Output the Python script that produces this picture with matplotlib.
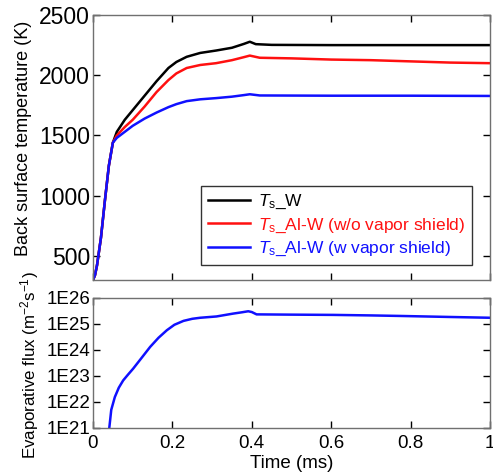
import matplotlib
matplotlib.use("Agg")
import matplotlib.pyplot as plt
import numpy as np

plt.rcParams['font.family'] = ['Liberation Sans', 'DejaVu Sans']
plt.rcParams['mathtext.fontset'] = 'custom'
plt.rcParams['mathtext.rm'] = 'Liberation Sans'
plt.rcParams['mathtext.it'] = 'Liberation Sans:italic'

# Back surface temperature (K) vs time (ms)
t_w = [0.0, 0.005, 0.01, 0.02, 0.03, 0.04, 0.05, 0.06, 0.08, 0.10, 0.13, 0.16, 0.19, 0.21,
       0.236, 0.27, 0.31, 0.35, 0.38, 0.395, 0.41, 0.45, 0.6, 0.8, 1.0]
T_w = [300, 340, 420, 650, 960, 1250, 1440, 1530, 1630, 1710, 1830, 1950, 2060, 2110,
       2153, 2185, 2205, 2228, 2260, 2278, 2258, 2252, 2250, 2250, 2250]

t_alw = [0.0, 0.005, 0.01, 0.02, 0.03, 0.04, 0.05, 0.06, 0.08, 0.10, 0.13, 0.16, 0.19, 0.21,
         0.236, 0.27, 0.31, 0.35, 0.38, 0.395, 0.42, 0.5, 0.6, 0.7, 0.8, 0.9, 1.0]
T_alw = [300, 340, 420, 650, 960, 1250, 1440, 1500, 1570, 1630, 1740, 1860, 1960, 2015,
         2060, 2085, 2100, 2125, 2150, 2163, 2145, 2140, 2130, 2125, 2115, 2105, 2100]

t_alw_vs = [0.0, 0.005, 0.01, 0.02, 0.03, 0.04, 0.05, 0.06, 0.08, 0.10, 0.13, 0.16, 0.19,
            0.21, 0.236, 0.27, 0.31, 0.35, 0.38, 0.395, 0.42, 0.6, 0.8, 1.0]
T_alw_vs = [300, 340, 420, 650, 960, 1250, 1440, 1480, 1530, 1580, 1640, 1690, 1735,
            1760, 1785, 1800, 1810, 1822, 1835, 1842, 1832, 1830, 1830, 1828]

# Evaporative flux (m^-2 s^-1), log10 values
t_flux = [0.041, 0.046, 0.055, 0.065, 0.076, 0.088, 0.101, 0.12, 0.144, 0.165, 0.186, 0.205,
          0.228, 0.25, 0.27, 0.311, 0.353, 0.375, 0.391, 0.40, 0.412, 0.5, 0.605, 0.7, 0.773,
          0.9, 1.0]
log_flux = [21.0, 21.7, 22.19, 22.55, 22.83, 23.05, 23.28, 23.65, 24.12, 24.47, 24.76, 24.97,
            25.12, 25.20, 25.24, 25.29, 25.40, 25.45, 25.49, 25.46, 25.37, 25.36, 25.35, 25.33,
            25.31, 25.27, 25.24]

fig = plt.figure(figsize=(4.93, 4.76), dpi=100)
W, H = 493, 476
ax1 = fig.add_axes([93 / W, 1 - 280 / H, 397 / W, 265 / H])
ax2 = fig.add_axes([93 / W, 1 - 428 / H, 397 / W, 130 / H])

frame_col = '#707070'

ax1.plot(t_w, T_w, color='black', lw=1.8,
         label=r'$\mathit{T}_{\mathrm{s}}$_W')
ax1.plot(t_alw, T_alw, color='#ff1010', lw=1.8,
         label=r'$\mathit{T}_{\mathrm{s}}$_Al-W (w/o vapor shield)')
ax1.plot(t_alw_vs, T_alw_vs, color='#1010ff', lw=1.8,
         label=r'$\mathit{T}_{\mathrm{s}}$_Al-W (w vapor shield)')
ax1.set_xlim(0, 1)
ax1.set_ylim(300, 2500)
ax1.set_yticks([500, 1000, 1500, 2000, 2500])
ax1.set_xticks([0, 0.2, 0.4, 0.6, 0.8, 1.0])
ax1.tick_params(labelbottom=False)

leg = ax1.legend(loc='lower right', bbox_to_anchor=(472 / W, 1 - 265 / H),
                 bbox_transform=fig.transFigure, fontsize=12.5, frameon=True,
                 fancybox=False, edgecolor='black', handlelength=2.4,
                 handletextpad=0.45, borderpad=0.4, labelspacing=0.3,
                 borderaxespad=0)
leg.get_frame().set_linewidth(1.0)
for txt, ln in zip(leg.get_texts(), leg.get_lines()):
    txt.set_color(ln.get_color())

flux = 10.0 ** np.array(log_flux)
ax2.plot(t_flux, flux, color='#1010ff', lw=1.8)
ax2.set_yscale('log')
ax2.set_xlim(0, 1)
ax2.set_ylim(1e21, 1e26)
ax2.set_yticks([1e21, 1e22, 1e23, 1e24, 1e25, 1e26])
ax2.set_yticklabels(['1E21', '1E22', '1E23', '1E24', '1E25', '1E26'])
ax2.minorticks_off()
ax2.set_xticks([0, 0.2, 0.4, 0.6, 0.8, 1.0])
ax2.set_xticklabels(['0', '0.2', '0.4', '0.6', '0.8', '1'])

for ax, fs in ((ax1, 16.5), (ax2, 13.5)):
    for sp in ax.spines.values():
        sp.set_color(frame_col)
        sp.set_linewidth(1.0)
    ax.tick_params(direction='in', top=True, right=True, length=5, width=1.0,
                   color='black', labelsize=fs, pad=2)
ax2.tick_params(axis='x', pad=5)

fig.text(24 / W, 1 - 138 / H, 'Back surface temperature (K)', rotation=90,
         ha='center', va='center', fontsize=13)
fig.text(30 / W, 1 - 365 / H, r'Evaporative flux (m$^{-2}$s$^{-1}$)', rotation=90,
         ha='center', va='center', fontsize=12.2)
fig.text(292 / W, 1 - 463 / H, 'Time (ms)', ha='center', va='center', fontsize=13.5)

fig.savefig('out.png', dpi=100)
